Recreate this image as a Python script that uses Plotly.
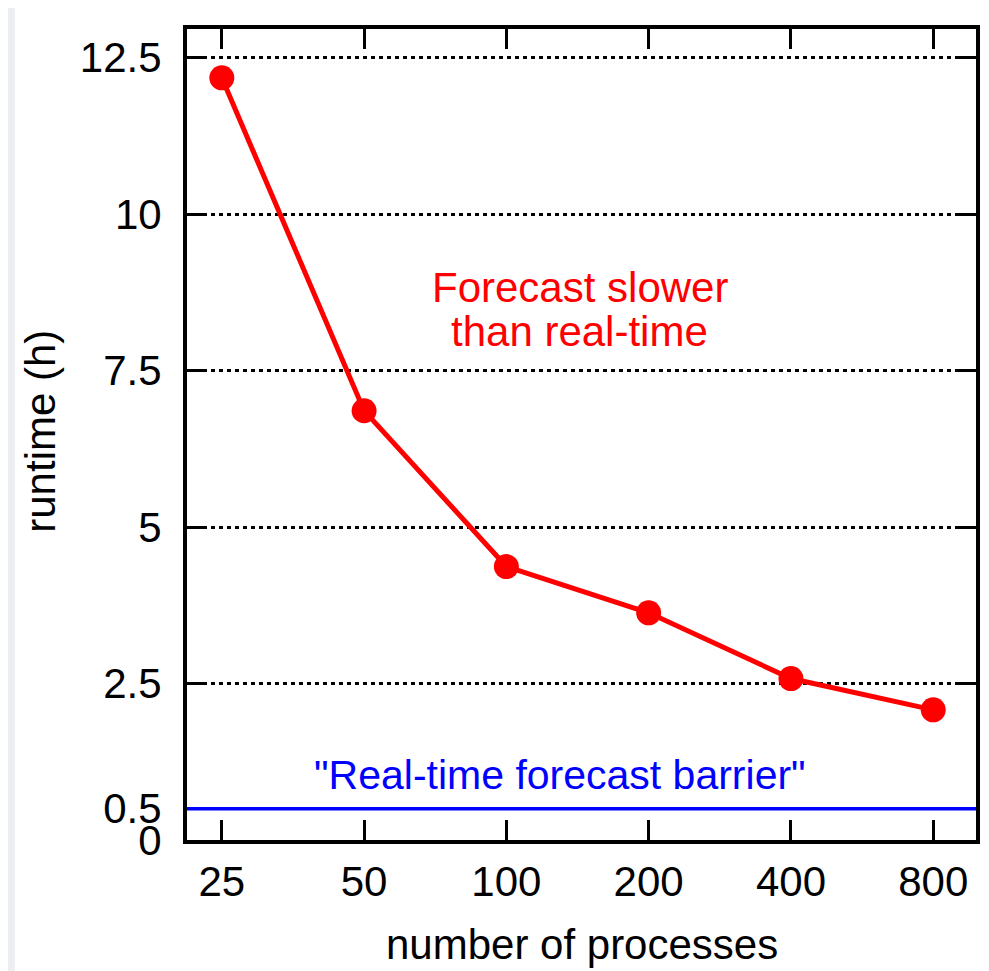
import plotly.graph_objects as go

# ---- data ----
processes = [25, 50, 100, 200, 400, 800]
runtime_h = [12.18, 6.86, 4.37, 3.63, 2.58, 2.08]
x_tick_labels = ["25", "50", "100", "200", "400", "800"]
y_tick_vals = [0, 0.5, 2.5, 5, 7.5, 10, 12.5]
y_tick_labels = ["0", "0.5", "2.5", "5", "7.5", "10", "12.5"]
barrier_h = 0.5

FONT = "Liberation Sans, Arial, Helvetica, sans-serif"

# page body has an 8px default margin, so the figure is 8px smaller
W, H = 981, 963
PW, PH = 793, 811  # plot area size

fig = go.Figure()
fig.add_trace(go.Scatter(
    x=processes, y=runtime_h, mode="lines+markers",
    line=dict(color="#ff0000", width=5),
    marker=dict(color="#ff0000", size=25),
    showlegend=False, hoverinfo="x+y",
))

axis_common = dict(
    showline=True, linecolor="black", linewidth=4,
    ticks="inside", ticklen=20, tickwidth=3, tickcolor="black",
    mirror="ticks", zeroline=False,
    tickfont=dict(family=FONT, size=42, color="black"),
)

fig.update_xaxes(
    type="log", range=[1.3243, 2.9936],
    tickvals=processes, ticktext=x_tick_labels,
    showgrid=False, ticklabelstandoff=2, **axis_common,
)
fig.update_yaxes(
    range=[0, 12.96],
    tickvals=y_tick_vals, ticktext=y_tick_labels,
    showgrid=True, gridcolor="black", gridwidth=3, griddash="4px,4px",
    ticklabelstandoff=13, **axis_common,
)

shapes = [
    # faint background strip at the left of the white panel
    dict(type="rect", xref="paper", yref="paper",
         x0=-0.3, x1=(14 - 187) / PW, y0=-0.3, y1=1.1,
         fillcolor="#eceef3", line=dict(width=0), layer="below"),
    # real-time barrier line
    dict(type="line", xref="paper", yref="y", x0=0, x1=1,
         y0=barrier_h, y1=barrier_h, line=dict(color="#0000ff", width=3.5)),
]

annotations = [
    dict(text="Forecast slower", x=0.498, y=(840 - 287) / PH, xref="paper", yref="paper",
         showarrow=False, xanchor="center", yanchor="middle",
         font=dict(family=FONT, size=42, color="#ff0000")),
    dict(text="than real-time", x=0.498, y=(840 - 332) / PH, xref="paper", yref="paper",
         showarrow=False, xanchor="center", yanchor="middle",
         font=dict(family=FONT, size=42, color="#ff0000")),
    dict(text="\"Real-time forecast barrier\"", x=0.473, y=(840 - 775) / PH,
         xref="paper", yref="paper", showarrow=False, xanchor="center", yanchor="middle",
         font=dict(family=FONT, size=41, color="#0000ff")),
    dict(text="runtime (h)", x=-148 / PW, y=(840 - 431) / PH,
         xref="paper", yref="paper", showarrow=False, textangle=-90,
         xanchor="center", yanchor="middle",
         font=dict(family=FONT, size=42, color="black")),
    dict(text="number of processes", x=(584 - 187) / PW, y=(840 - 944) / PH,
         xref="paper", yref="paper", showarrow=False,
         xanchor="center", yanchor="middle",
         font=dict(family=FONT, size=42, color="black")),
]

fig.update_layout(
    width=W, height=H,
    margin=dict(l=179, r=W - 179 - PW, t=21, b=H - 21 - PH),
    paper_bgcolor="white", plot_bgcolor="white",
    shapes=shapes, annotations=annotations,
    font=dict(family=FONT, color="black"),
)

fig.write_html("out.html")
